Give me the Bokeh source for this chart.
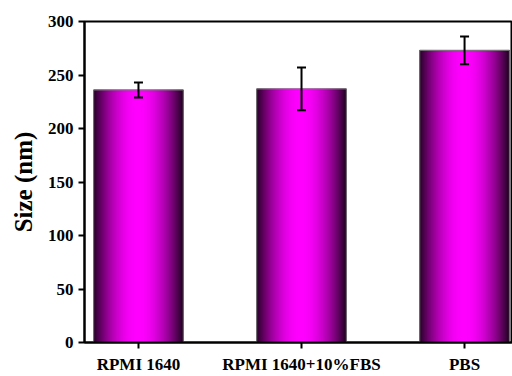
import numpy as np
from bokeh.plotting import figure
from bokeh.models import Range1d, FixedTicker, Whisker, TeeHead, ColumnDataSource
from bokeh.embed import file_html
from bokeh.resources import INLINE

categories = ["RPMI 1640", "RPMI 1640+10%FBS", "PBS"]
sizes = [236, 237, 273]
errors = [7, 20, 13]
y_ticks = [0, 50, 100, 150, 200, 250, 300]

xpos = list(range(len(categories)))
bar_w = 0.55

p = figure(width=512, height=376, output_backend="svg", toolbar_location=None,
           x_range=Range1d(-0.331, 2.294), y_range=Range1d(0, 300),
           min_border_left=84, min_border_right=0, min_border_top=21, min_border_bottom=34)
p.xgrid.visible = False
p.ygrid.visible = False
p.background_fill_color = "white"
p.border_fill_color = "white"
p.outline_line_color = "black"
p.outline_line_width = 2

# gradient bars built from strips
N = 90
lefts, rights, tops, bottoms, colors = [], [], [], [], []
for x, v in zip(xpos, sizes):
    x0 = x - bar_w / 2
    dx = bar_w / N
    for i in range(N):
        u = (i + 0.5) / N
        f = 0.12 + 0.88 * np.sin(np.pi * u) ** 0.9
        c = int(round(255 * f))
        lefts.append(x0 + i * dx)
        rights.append(x0 + (i + 1) * dx)
        tops.append(v)
        bottoms.append(0)
        colors.append("#%02x00%02x" % (c, c))
p.quad(left=lefts, right=rights, top=tops, bottom=bottoms, fill_color=colors,
       line_color=colors, line_width=1)
p.vbar(x=xpos, top=sizes, width=bar_w, bottom=0, fill_color=None, line_color="#7a7a7a", line_width=1)

src = ColumnDataSource(dict(x=xpos,
                            lo=[v - e for v, e in zip(sizes, errors)],
                            hi=[v + e for v, e in zip(sizes, errors)]))
w = Whisker(source=src, base="x", lower="lo", upper="hi", line_color="black", line_width=2,
            upper_head=TeeHead(size=9, line_width=2, line_color="black"),
            lower_head=TeeHead(size=9, line_width=2, line_color="black"),
            level="overlay")
p.add_layout(w)

font = "Liberation Serif"
for ax in (p.xaxis[0], p.yaxis[0]):
    ax.axis_line_width = 2
    ax.axis_line_color = "black"
    ax.major_tick_line_width = 2
    ax.major_tick_in = 0
    ax.major_tick_out = 6
    ax.minor_tick_line_color = None
    ax.major_label_text_font = font
    ax.major_label_text_font_style = "bold"
    ax.major_label_text_font_size = "17px"
    ax.major_label_text_color = "black"

p.xaxis.ticker = FixedTicker(ticks=xpos)
p.xaxis.major_label_overrides = {i: c for i, c in zip(xpos, categories)}
p.xaxis.major_label_standoff = 6
p.yaxis.ticker = FixedTicker(ticks=y_ticks)
p.yaxis.major_label_standoff = 5
p.yaxis.axis_label = "Size (nm)"
p.yaxis.axis_label_text_font = font
p.yaxis.axis_label_text_font_style = "bold"
p.yaxis.axis_label_text_font_size = "25px"
p.yaxis.axis_label_text_color = "black"
p.yaxis.axis_label_standoff = 8

open("out.html", "w").write(file_html(p, INLINE))
